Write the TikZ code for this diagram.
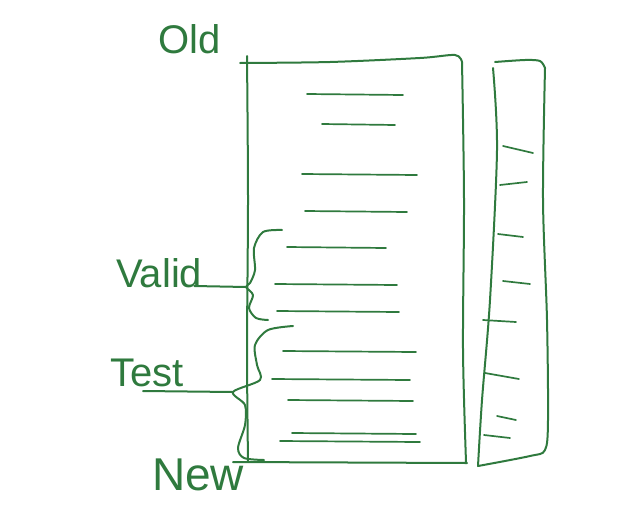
\documentclass[tikz,border=0pt]{standalone}
\usepackage{fontspec}
\setmainfont{Liberation Sans}
\usetikzlibrary{positioning}
\definecolor{penc}{HTML}{2F7A3E}

\begin{document}
\begin{tikzpicture}[x=1pt, y=-1pt,
  pen/.style={draw=penc, line width=2pt, line cap=round, line join=round},
  stroke/.style={pen, line width=1.7pt},
  lbl/.style={text=penc, font=\fontsize{40}{40}\selectfont, inner sep=0pt}]
\useasboundingbox (0,0) rectangle (617,506);
% big table
\draw[pen] plot[smooth] coordinates {(240,63) (330,62) (420,58) (455,55) (462,62)};
\draw[pen] plot[smooth] coordinates {(462,62) (464,200) (463,350) (466,462)};
\draw[pen] plot[smooth] coordinates {(247,56) (248,200) (247,350) (248,462)};
\draw[pen] (233,462) -- (467,463);
% rows of the table
\foreach \y/\a/\b in {94/307/403, 124/322/395, 174/302/417, 211/305/407, 247/287/386,
  284/275/397, 311/277/399, 351/283/416, 379/272/410, 400/288/413, 433/292/416, 441/280/420}
  \draw[stroke] (\a,\y) -- (\b,\y+1);
% narrow column
\draw[pen] plot[smooth] coordinates {(495,62) (525,60) (540,61) (545,68)};
\draw[pen] plot[smooth] coordinates {(545,68) (543,200) (547,320) (548,420) (545,450) (530,456) (478,466)};
\draw[pen] plot[smooth] coordinates {(493,68) (497,150) (490,300) (482,400) (478,466)};
\foreach \a/\ya/\b/\yb in {503/146/533/153, 500/185/527/182, 498/234/523/237, 503/281/530/284,
  483/320/516/322, 485/373/519/379, 497/416/516/420, 484/435/510/438}
  \draw[stroke] (\a,\ya) -- (\b,\yb);
% braces
\coordinate (vtip) at (246,287);
\coordinate (ttip) at (233,392);
\draw[pen] plot[smooth] coordinates {(282,230) (263,232) (254,248) (255,270) (250,283) (vtip)
  (253,295) (249,308) (256,318) (268,320)};
\draw[pen] plot[smooth] coordinates {(293,326) (268,330) (255,345) (257,365) (260,380) (ttip)
  (245,405) (245,425) (238,448) (244,458) (264,460)};
% labels
\node[lbl, anchor=base west] (old) at (158,53) {Old};
\node[lbl, anchor=base west] (valid) at (116,287) {Valid};
\node[lbl, anchor=base west] (test) at (110,386) {Test};
\node[lbl, anchor=base west, font=\fontsize{46}{46}\selectfont] (new) at (152,490) {New};
\draw[pen] (valid.base east) ++(-8,-1) -- (vtip);
\draw[pen] (test.base west) ++(33,5) -- (ttip);
\end{tikzpicture}
\end{document}
